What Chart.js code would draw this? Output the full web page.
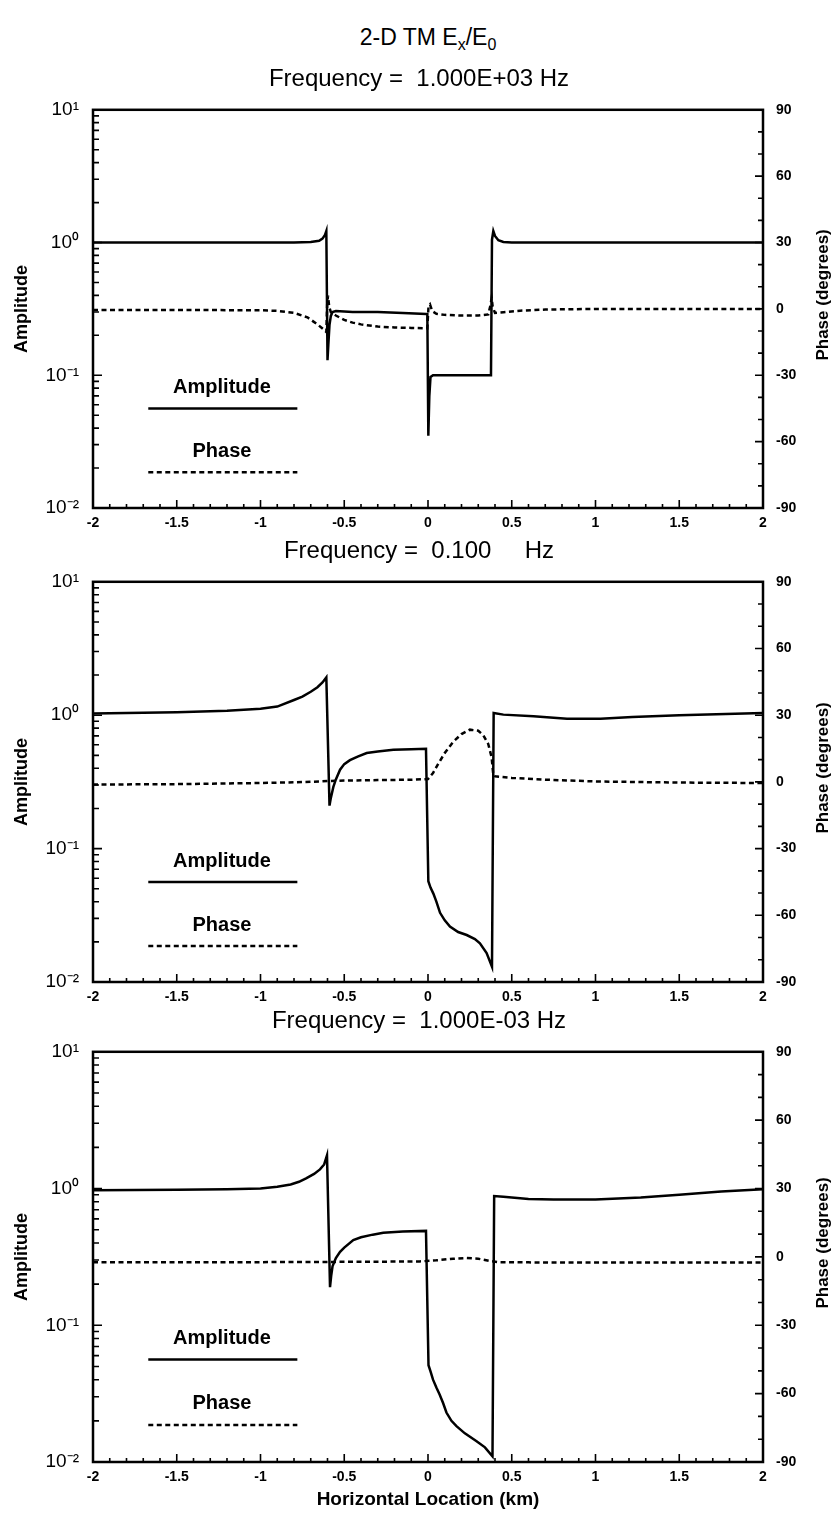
<!DOCTYPE html>
<html>
<head>
<meta charset="utf-8">
<script src="https://cdn.jsdelivr.net/npm/chart.js@4.4.1/dist/chart.umd.min.js"></script>
<style>
  body { margin: 0; background: #fff; width: 838px; height: 1519px; overflow: hidden; position: relative; font-family: "Liberation Sans", Arial, sans-serif; }
  canvas { position: absolute; left: 0; }
  #mainTitle { position: absolute; left: 0; width: 856px; top: 24px; text-align: center; font-size: 23px; color: #000; }
  #mainTitle sub { font-size: 16px; vertical-align: -5px; }
</style>
</head>
<body>
<div id="mainTitle">2-D TM E<sub>x</sub>/E<sub>0</sub></div>
<canvas id="panel1" width="838" height="487" style="top:61px"></canvas>
<canvas id="panel2" width="838" height="489" style="top:533px"></canvas>
<canvas id="panel3" width="838" height="514" style="top:1003px"></canvas>
<script>
// frequencies shown in the panel titles
const panelTitles = [
  "Frequency =  1.000E+03 Hz",
  "Frequency =  0.100     Hz",
  "Frequency =  1.000E-03 Hz"
];

// tick labels
const xTickValues = [-2, -1.5, -1, -0.5, 0, 0.5, 1, 1.5, 2];
const ampTickValues = [0.01, 0.1, 1, 10];
const ampTickLabels = ["10⁻²", "10⁻¹", "10⁰", "10¹"];
const phaseTickValues = [-90, -60, -30, 0, 30, 60, 90];

// panel 1 : 1000 Hz
const amp1X = [-2, -1.5, -1, -0.8, -0.7, -0.65, -0.63, -0.615, -0.607, -0.6, -0.595, -0.588, -0.58, -0.57, -0.55, -0.45, -0.3, -0.15, -0.01, -0.004, 0.002, 0.008, 0.015, 0.03, 0.1, 0.2, 0.3, 0.376, 0.382, 0.39, 0.4, 0.42, 0.45, 0.5, 0.7, 1, 1.5, 2];
const amp1Y = [1.0, 1.0, 1.0, 1.0, 1.01, 1.03, 1.07, 1.14, 1.22, 0.13, 0.17, 0.24, 0.28, 0.3, 0.305, 0.3, 0.3, 0.295, 0.29, 0.29, 0.035, 0.07, 0.097, 0.1, 0.1, 0.1, 0.1, 0.1, 1.05, 1.22, 1.12, 1.04, 1.01, 1.0, 1.0, 1.0, 1.0, 1.0];
const ph1X = [-2, -1.5, -1, -0.9, -0.8, -0.72, -0.66, -0.62, -0.607, -0.602, -0.597, -0.59, -0.58, -0.55, -0.5, -0.45, -0.4, -0.3, -0.2, -0.1, -0.004, 0.003, 0.012, 0.025, 0.05, 0.1, 0.2, 0.3, 0.36, 0.374, 0.38, 0.386, 0.4, 0.45, 0.55, 0.7, 1, 1.5, 2];
const ph1Y = [-0.5, -0.5, -0.6, -0.9, -1.8, -3.8, -7, -9.5, -10.5, 2, 6, 1, -1.5, -3, -5, -6.2, -7, -8, -8.4, -8.6, -8.8, 1, 2, -1, -2.2, -2.7, -3, -3, -2.5, 2, 5, 1, -1.8, -1.5, -0.8, -0.3, 0, 0, 0];

// panel 2 : 0.1 Hz
const amp2X = [-2, -1.5, -1.2, -1, -0.9, -0.8, -0.75, -0.7, -0.66, -0.63, -0.607, -0.588, -0.58, -0.565, -0.55, -0.525, -0.5, -0.466, -0.42, -0.366, -0.3, -0.207, -0.1, -0.012, 0.002, 0.015, 0.032, 0.05, 0.072, 0.1, 0.131, 0.18, 0.231, 0.28, 0.31, 0.35, 0.382, 0.392, 0.45, 0.63, 0.83, 1.03, 1.22, 1.5, 2];
const amp2Y = [1.03, 1.05, 1.08, 1.12, 1.16, 1.3, 1.38, 1.5, 1.62, 1.76, 1.92, 0.21, 0.24, 0.29, 0.33, 0.39, 0.43, 0.46, 0.49, 0.52, 0.535, 0.55, 0.555, 0.56, 0.057, 0.051, 0.046, 0.04, 0.033, 0.029, 0.026, 0.0237, 0.0225, 0.021, 0.0195, 0.0165, 0.013, 1.04, 1.01, 0.98, 0.94, 0.94, 0.97, 1.0, 1.04];
const ph2X = [-2, -1.5, -1, -0.8, -0.65, -0.6, -0.5, -0.3, -0.1, 0, 0.03, 0.06, 0.1, 0.15, 0.2, 0.25, 0.3, 0.33, 0.36, 0.38, 0.39, 0.4, 0.5, 0.7, 1, 1.5, 2];
const ph2Y = [-1.2, -1, -0.5, -0.2, 0.2, 0.4, 0.6, 0.8, 1, 1.3, 4, 8, 13, 18, 21.5, 23.5, 23, 21, 17, 11, 3, 2.5, 1.8, 1, 0.2, -0.3, -0.5];

// panel 3 : 0.001 Hz
const amp3X = [-2, -1.5, -1.2, -1, -0.9, -0.82, -0.77, -0.725, -0.68, -0.645, -0.62, -0.603, -0.585, -0.578, -0.57, -0.55, -0.525, -0.5, -0.446, -0.4, -0.33, -0.267, -0.15, -0.012, 0.003, 0.015, 0.03, 0.05, 0.07, 0.09, 0.11, 0.14, 0.17, 0.22, 0.29, 0.34, 0.385, 0.395, 0.45, 0.6, 0.75, 1, 1.27, 1.5, 1.75, 2];
const amp3Y = [0.97, 0.98, 0.99, 1.0, 1.03, 1.07, 1.12, 1.19, 1.28, 1.38, 1.5, 1.75, 0.19, 0.23, 0.27, 0.31, 0.344, 0.37, 0.42, 0.44, 0.46, 0.475, 0.485, 0.49, 0.051, 0.046, 0.04, 0.035, 0.031, 0.027, 0.023, 0.02, 0.0183, 0.0162, 0.0142, 0.0128, 0.011, 0.88, 0.87, 0.84, 0.83, 0.83, 0.86, 0.9, 0.95, 0.99];
const ph3X = [-2, -1, -0.6, -0.3, -0.05, 0.05, 0.15, 0.23, 0.3, 0.37, 0.42, 0.6, 1, 1.5, 2];
const ph3Y = [-2.3, -2.3, -2.2, -2.1, -2, -1.5, -0.8, -0.5, -0.8, -1.8, -2.3, -2.4, -2.5, -2.5, -2.5];

const FONT = "'Liberation Sans', Arial, sans-serif";
Chart.defaults.font.family = FONT;
Chart.defaults.color = "#000";

function toPoints(xs, ys) {
  return xs.map((x, i) => ({ x: x, y: ys[i] }));
}

// frame, inward ticks and the little legend inside the plot
const framePlugin = {
  id: "frame",
  afterDatasetsDraw(chart) {
    const ctx = chart.ctx;
    const a = chart.chartArea;
    const sx = chart.scales.x, sa = chart.scales.yAmp, sp = chart.scales.yPh;
    const h = a.bottom - a.top;
    ctx.save();
    ctx.strokeStyle = "#000";
    ctx.lineWidth = 2.5;
    ctx.strokeRect(a.left, a.top, a.right - a.left, h);

    ctx.lineWidth = 1.6;
    ctx.beginPath();
    for (let i = -20; i <= 20; i++) {
      const px = sx.getPixelForValue(i / 10);
      const len = i % 5 === 0 ? 8 : 4;
      ctx.moveTo(px, a.bottom);
      ctx.lineTo(px, a.bottom - len);
    }
    for (let d = -2; d <= 0; d++) {
      for (let m = 1; m <= 9; m++) {
        const py = sa.getPixelForValue(m * Math.pow(10, d));
        const len = m === 1 ? 9 : 6;
        ctx.moveTo(a.left, py);
        ctx.lineTo(a.left + len, py);
      }
    }
    for (let deg = -80; deg <= 80; deg += 10) {
      const py = sp.getPixelForValue(deg);
      const len = deg % 30 === 0 ? 8 : 5;
      ctx.moveTo(a.right, py);
      ctx.lineTo(a.right - len, py);
    }
    ctx.stroke();

    // legend
    const ds = chart.data.datasets;
    const lx0 = sx.getPixelForValue(-1.67), lx1 = sx.getPixelForValue(-0.78);
    const cx = sx.getPixelForValue(-1.23);
    ctx.fillStyle = "#000";
    ctx.font = "bold 20px " + FONT;
    ctx.textAlign = "center";
    ctx.textBaseline = "middle";
    ctx.fillText(ds[0].label, cx, a.top + 0.698 * h);
    ctx.fillText(ds[1].label, cx, a.top + 0.858 * h);
    ctx.lineWidth = ds[0].borderWidth;
    ctx.beginPath();
    ctx.moveTo(lx0, a.top + 0.75 * h);
    ctx.lineTo(lx1, a.top + 0.75 * h);
    ctx.stroke();
    ctx.lineWidth = ds[1].borderWidth;
    ctx.setLineDash(ds[1].borderDash);
    ctx.beginPath();
    ctx.moveTo(lx0, a.top + 0.91 * h);
    ctx.lineTo(lx1, a.top + 0.91 * h);
    ctx.stroke();
    ctx.setLineDash([]);

    // right axis title, reading upward
    ctx.font = "bold 17px " + FONT;
    ctx.translate(823, a.top + h / 2 - 14);
    ctx.rotate(-Math.PI / 2);
    ctx.fillText("Phase (degrees)", 0, 0);
    ctx.restore();
  }
};

function makePanel(id, title, ampX, ampY, phX, phY, xTitle) {
  const ctx = document.getElementById(id).getContext("2d");
  return new Chart(ctx, {
    type: "line",
    data: {
      datasets: [
        {
          label: "Amplitude",
          data: toPoints(ampX, ampY),
          yAxisID: "yAmp",
          borderColor: "#000",
          borderWidth: 2.5,
          pointRadius: 0,
          tension: 0,
          fill: false
        },
        {
          label: "Phase",
          data: toPoints(phX, phY),
          yAxisID: "yPh",
          borderColor: "#000",
          borderWidth: 2.5,
          borderDash: [5, 3.5],
          pointRadius: 0,
          tension: 0,
          fill: false
        }
      ]
    },
    options: {
      responsive: false,
      animation: false,
      devicePixelRatio: 1,
      layout: { padding: 0 },
      plugins: {
        legend: { display: false },
        tooltip: { enabled: false },
        title: {
          display: true,
          text: title,
          color: "#000",
          font: { family: FONT, size: 24, weight: "normal", lineHeight: 1.2 },
          padding: { top: 4, bottom: 16 }
        }
      },
      scales: {
        x: {
          type: "linear",
          min: -2,
          max: 2,
          grid: { display: false, drawTicks: false },
          border: { display: false },
          afterBuildTicks: s => { s.ticks = xTickValues.map(v => ({ value: v })); },
          ticks: {
            maxRotation: 0,
            autoSkip: false,
            padding: 7,
            font: { size: 14, weight: "bold" },
            callback: v => String(v)
          },
          title: {
            display: !!xTitle,
            text: xTitle || "",
            font: { size: 19, weight: "bold" },
            padding: { top: 0, bottom: 6 }
          },
          afterFit: s => { s.height = xTitle ? 55 : 40; }
        },
        yAmp: {
          type: "logarithmic",
          position: "left",
          min: 0.01,
          max: 10,
          grid: { display: false, drawTicks: false },
          border: { display: false },
          afterBuildTicks: s => { s.ticks = ampTickValues.map(v => ({ value: v })); },
          ticks: {
            padding: 14,
            font: { size: 19 },
            callback: (v, i) => ampTickLabels[i]
          },
          title: {
            display: true,
            text: "Amplitude",
            font: { size: 18, weight: "bold" },
            padding: { top: 11, bottom: 0 }
          },
          afterFit: s => { s.width = 93; }
        },
        yPh: {
          type: "linear",
          position: "right",
          min: -90,
          max: 90,
          grid: { display: false, drawTicks: false },
          border: { display: false },
          afterBuildTicks: s => { s.ticks = phaseTickValues.map(v => ({ value: v })); },
          ticks: {
            padding: 13,
            font: { size: 14, weight: "bold" },
            callback: v => String(v)
          },
          afterFit: s => { s.width = 75; }
        }
      }
    },
    plugins: [framePlugin]
  });
}

makePanel("panel1", panelTitles[0], amp1X, amp1Y, ph1X, ph1Y, null);
makePanel("panel2", panelTitles[1], amp2X, amp2Y, ph2X, ph2Y, null);
makePanel("panel3", panelTitles[2], amp3X, amp3Y, ph3X, ph3Y, "Horizontal Location (km)");
</script>
</body>
</html>
